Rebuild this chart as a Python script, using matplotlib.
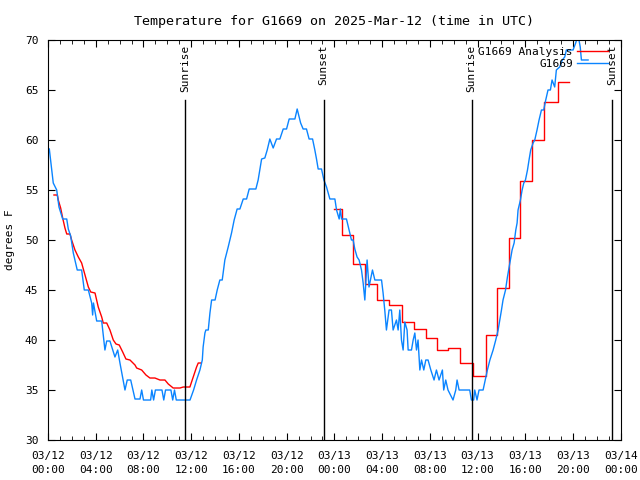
import matplotlib
matplotlib.use('Agg')
import matplotlib.pyplot as plt
from matplotlib.ticker import MultipleLocator

# hours since 2025-03-12 00:00 UTC
blue_t = [0.11, 0.44, 0.73, 0.92, 1.23, 1.57, 1.70, 1.90, 2.12, 2.45, 2.82, 3.04, 3.38, 3.66, 3.74, 3.81,
          4.08, 4.50, 4.77, 4.92, 5.19, 5.61, 5.84, 6.03, 6.45, 6.64, 6.93, 7.29, 7.71, 7.85, 8.0,
          8.6, 8.7, 8.85, 9.0, 9.55, 9.7, 9.85, 10.3, 10.45, 10.6, 10.75, 11.9, 12.2, 12.45, 12.73,
          12.93, 13.0, 13.15, 13.23, 13.43, 13.57, 13.71, 14.0, 14.18, 14.4, 14.6, 14.82, 15.1, 15.38,
          15.6, 15.85, 16.08, 16.36, 16.64, 16.86, 17.42, 17.61, 17.9, 18.17, 18.37, 18.59, 18.87,
          19.15, 19.43, 19.71, 19.99, 20.21, 20.69, 20.88, 21.17, 21.38, 21.66, 21.88, 22.17, 22.36,
          22.5, 22.64, 22.92, 23.12, 23.34, 23.62, 24.04, 24.18, 24.4, 24.5, 24.6, 24.73, 25.01,
          25.23, 25.43, 25.57, 25.71, 25.9, 26.07, 26.27, 26.41, 26.55, 26.74, 26.9, 27.19, 27.39,
          27.95, 28.08, 28.22, 28.36, 28.58, 28.78, 28.92, 29.2, 29.34, 29.48, 29.62, 29.76, 29.9,
          30.09, 30.18, 30.46, 30.6, 30.74, 30.88, 31.01, 31.16, 31.3, 31.49, 31.66, 31.85, 32.08,
          32.35, 32.55, 32.77, 33.05, 33.16, 33.33, 33.52, 33.94, 34.17, 34.28, 34.45, 35.34, 35.48,
          35.67, 35.76, 35.95, 36.12, 36.46, 36.69, 36.82, 37.03, 37.3, 37.52, 37.72, 37.86, 38.0,
          38.13, 38.34, 38.5, 38.7, 38.89, 39.06, 39.2, 39.31, 39.39, 39.59, 39.73, 39.87, 40.01,
          40.18, 40.31, 40.45, 40.65, 40.79, 40.98, 41.15, 41.35, 41.54, 41.71, 41.9, 42.1, 42.24,
          42.46, 42.6, 42.88, 43.1, 43.3, 43.44, 44.0, 44.22, 44.42, 44.6, 44.7, 45.26]
blue_v = [59.1, 55.7, 55.0, 53.3, 52.1, 52.1, 51.1, 50.4, 48.7, 47.0, 47.0, 45.0, 45.0, 43.7, 42.5, 43.7,
          41.9, 41.9, 39.0, 39.9, 39.9, 38.3, 39.0, 37.7, 35.0, 36.0, 36.0, 34.1, 34.1, 35.0, 34.0,
          34.0, 35.0, 34.0, 35.0, 35.0, 34.0, 35.0, 35.0, 34.0, 35.0, 34.0, 34.0, 35.0, 36.0, 37.0,
          38.0, 39.3, 40.7, 41.0, 41.0, 42.7, 44.0, 44.0, 45.0, 46.0, 46.0, 48.0, 49.3, 50.7,
          52.0, 53.1, 53.1, 54.1, 54.1, 55.1, 55.1, 56.0, 58.1, 58.2, 59.0, 60.1, 59.2,
          60.1, 60.1, 61.1, 61.1, 62.1, 62.1, 63.1, 61.7, 61.1, 61.1, 60.1, 60.1, 59.0,
          58.1, 57.1, 57.1, 56.0, 55.3, 54.1, 54.1, 53.0, 52.1, 53.1, 52.1, 52.1, 52.1,
          51.0, 50.0, 50.0, 49.1, 48.3, 48.0, 47.0, 45.7, 44.0, 48.0, 45.3, 47.0, 46.0,
          46.0, 44.7, 43.0, 41.0, 43.0, 43.0, 41.0, 42.0, 41.0, 43.0, 40.0, 39.0, 41.8,
          41.0, 39.0, 39.0, 40.0, 40.7, 39.0, 40.0, 37.0, 38.0, 37.0, 38.0, 38.0, 37.0,
          36.0, 37.0, 36.0, 37.0, 35.0, 36.0, 35.0, 34.0, 35.0, 36.0, 35.0, 35.0, 34.0,
          34.0, 35.0, 34.0, 35.0, 35.0, 36.3, 37.0, 38.0, 39.0, 40.0, 41.0, 42.0, 43.0,
          44.0, 45.0, 46.3, 47.7, 49.0, 49.7, 51.0, 51.7, 53.0, 54.0, 55.0, 55.7, 56.0,
          57.0, 58.0, 59.0, 59.7, 60.0, 61.0, 62.0, 63.0, 63.0, 64.0, 65.0, 65.0, 66.0,
          65.3, 67.0, 67.3, 68.0, 68.3, 69.0, 69.0, 69.7, 70.5, 69.3, 68.0, 68.0]

# analysis, first day (continuous)
red1_t = [0.50, 0.78, 0.86, 1.06, 1.23, 1.42, 1.57, 1.84, 1.98, 2.26, 2.54, 2.82, 3.10, 3.38, 3.58,
          3.94, 4.21, 4.50, 4.63, 4.92, 5.19, 5.47, 5.70, 5.97, 6.26, 6.53, 6.87, 7.29, 7.43, 7.85,
          8.21, 8.54, 8.96, 9.38, 9.80, 10.08, 10.49, 11.06, 11.33, 11.89, 12.17, 12.45, 12.59, 12.79]
red1_v = [54.5, 54.5, 54.0, 53.2, 52.2, 51.2, 50.6, 50.6, 50.0, 49.0, 48.3, 47.7, 46.5, 45.3, 44.8,
          44.7, 43.3, 42.3, 41.7, 41.7, 41.0, 40.0, 39.6, 39.5, 38.8, 38.1, 38.0, 37.5, 37.2, 37.0,
          36.5, 36.2, 36.2, 36.0, 36.0, 35.6, 35.2, 35.2, 35.3, 35.3, 36.3, 37.3, 37.7, 37.7]

# analysis, second day (hourly steps)
red2_t = [24.0, 24.6, 25.6, 26.55, 27.6, 28.6, 29.65, 30.7, 31.7, 32.6, 33.55, 34.55, 35.6, 36.7,
          37.6, 38.65, 39.55, 40.6, 41.6, 42.7, 43.7]
red2_v = [53.1, 50.5, 47.6, 45.6, 44.0, 43.5, 41.8, 41.1, 40.2, 39.0, 39.2, 37.7, 36.4, 40.5,
          45.2, 50.2, 55.9, 60.0, 63.8, 65.8, 65.8]

sun_t = [11.47, 23.1, 35.5, 47.3]
sun_lbl = ['Sunrise', 'Sunset', 'Sunrise', 'Sunset']

xtick_pos = list(range(0, 49, 4))
xtick_lbl = ['03/12\n00:00', '03/12\n04:00', '03/12\n08:00', '03/12\n12:00', '03/12\n16:00',
             '03/12\n20:00', '03/13\n00:00', '03/13\n04:00', '03/13\n08:00', '03/13\n12:00',
             '03/13\n16:00', '03/13\n20:00', '03/14\n00:00']

plt.rcParams['font.family'] = 'DejaVu Sans Mono'
plt.rcParams['font.size'] = 8

fig = plt.figure(figsize=(6.4, 4.8), dpi=100)
ax = fig.add_axes([0.075, 0.0833, 0.895, 0.8334])

ax.plot(red1_t, red1_v, color='#ff0000', lw=1.0, label='G1669 Analysis')
ax.plot(red2_t, red2_v, color='#ff0000', lw=1.0, drawstyle='steps-post')
ax.plot(blue_t, blue_v, color='#0a84ff', lw=1.0, label='G1669')

for t, s in zip(sun_t, sun_lbl):
    ax.axvline(t, ymin=0, ymax=0.85, color='black', lw=1.0)
    ax.text(t, 69.5, s, rotation=90, ha='center', va='top')

ax.set_xlim(0, 48)
ax.set_ylim(30, 70)
ax.set_xticks(xtick_pos)
ax.set_xticklabels(xtick_lbl, linespacing=1.5)
ax.xaxis.set_minor_locator(MultipleLocator(1))
ax.set_yticks(range(30, 71, 5))
ax.tick_params(which='both', direction='in', top=True, right=True)
ax.tick_params(which='major', length=5)
ax.tick_params(which='minor', length=3)
ax.tick_params(axis='x', pad=8)
ax.tick_params(axis='y', pad=7)
fig.text(10 / 640, 0.5, 'degrees F', rotation=90, ha='center', va='center')
ax.set_title('Temperature for G1669 on 2025-Mar-12 (time in UTC)', pad=11)

ax.legend(loc='upper right', bbox_to_anchor=(0.99, 1.0), frameon=False, markerfirst=False,
          handlelength=2.8, handletextpad=0.4, borderaxespad=0.2, labelspacing=0.2)

fig.savefig('out.png', dpi=100)
